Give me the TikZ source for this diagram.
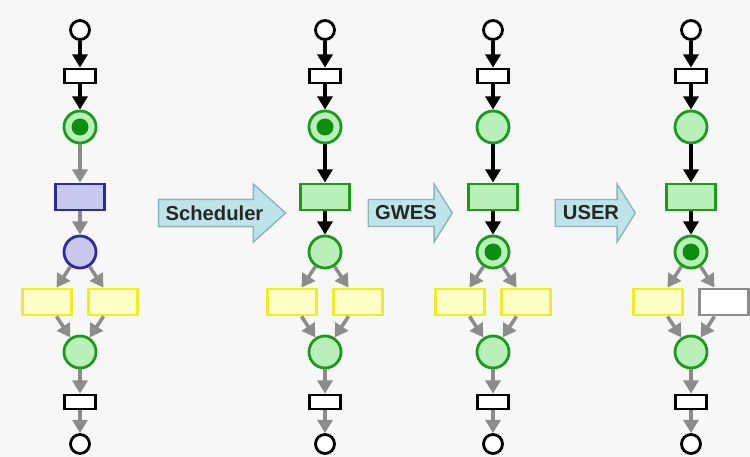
\documentclass[tikz,border=0pt]{standalone}
\usepackage{fontspec}
\setsansfont{Liberation Sans}
\usepackage{tikz}
\usetikzlibrary{arrows.meta,shapes.arrows}
\definecolor{pGreen}{HTML}{1C9A1C}
\definecolor{pGreenL}{HTML}{B9F0B9}
\definecolor{pGreenD}{HTML}{0E8E0E}
\definecolor{pBlue}{HTML}{2D2D9A}
\definecolor{pBlueL}{HTML}{C9C9EF}
\definecolor{pYellow}{HTML}{EEEE22}
\definecolor{pYellowL}{HTML}{FFFFC6}
\definecolor{mGrey}{HTML}{8C8C8C}
\definecolor{fFill}{HTML}{BDE5E9}
\definecolor{fLine}{HTML}{8DB4B8}
\definecolor{bgGrey}{HTML}{F7F7F7}
\tikzset{
  pl/.style   = {circle, draw=pGreen, fill=pGreenL, line width=1.6pt,
                 minimum size=6.4mm, inner sep=0pt},
  tok/.style  = {pl, path picture={\fill[pGreenD] (path picture bounding box.center) circle (1.7mm);}},
  plb/.style  = {pl, draw=pBlue, fill=pBlueL},
  ple/.style  = {circle, draw=black, fill=white, line width=1.6pt,
                 minimum size=3.8mm, inner sep=0pt},
  tr/.style   = {rectangle, draw=pGreen, fill=pGreenL, line width=1.6pt,
                 minimum width=9.8mm, minimum height=5.2mm, inner sep=0pt},
  trb/.style  = {tr, draw=pBlue, fill=pBlueL},
  try/.style  = {tr, draw=pYellow, fill=pYellowL},
  tro/.style  = {tr, draw=mGrey, fill=white},
  trs/.style  = {rectangle, draw=black, fill=white, line width=1.6pt,
                 minimum width=6.2mm, minimum height=2.8mm, inner sep=0pt},
  ar/.style   = {-{Triangle[length=7.5pt,width=8.5pt]}, line width=2pt, draw=black},
  arg/.style  = {ar, draw=mGrey},
  flow/.style = {single arrow, draw=fLine, fill=fFill, line width=0.8pt,
                 minimum width=11.6mm, single arrow head extend=2.6mm, inner sep=2pt,
                 font=\sffamily\bfseries\fontsize{11.5}{13}\selectfont, text=black!85},
}
\begin{document}
\begin{tikzpicture}[x=0.2mm, y=-0.2mm]
  \fill[bgGrey] (0,0) rectangle (750,457);
  \useasboundingbox (0,0) rectangle (750,457);
  % one net per column: place, middle transition, place below, right branch, arrow style
  \foreach \k/\x/\pa/\tb/\pb/\tr/\arr in {1/80/tok/trb/plb/try/arg,
                                          2/325/tok/tr/pl/try/ar,
                                          3/493/pl/tr/tok/try/ar,
                                          4/691/pl/tr/tok/tro/ar}{
    \node[ple]  (s\k) at (\x,30)     {};
    \node[trs]  (u\k) at (\x,76)     {};
    \node[\pa]  (p\k) at (\x,127)    {};
    \node[\tb]  (t\k) at (\x,197)    {};
    \node[\pb]  (q\k) at (\x,252)    {};
    \node[try]  (l\k) at (\x-33,302) {};
    \node[\tr]  (r\k) at (\x+33,302) {};
    \node[pl]   (m\k) at (\x,352)    {};
    \node[trs]  (v\k) at (\x,402)    {};
    \node[ple]  (e\k) at (\x,444)    {};
    \draw[ar]   (s\k) -- (u\k);
    \draw[ar]   (u\k) -- (p\k);
    \draw[\arr] (p\k) -- (t\k);
    \draw[\arr] (t\k) -- (q\k);
    \draw[arg]  (q\k) -- (l\k);
    \draw[arg]  (q\k) -- (r\k);
    \draw[arg]  (l\k) -- (m\k);
    \draw[arg]  (r\k) -- (m\k);
    \draw[arg]  (m\k) -- (v\k);
    \draw[arg]  (v\k) -- (e\k);
  }
  % steps between the columns
  \node[flow, minimum height=25.4mm, single arrow tip angle=84]  (sched) at (214.5,213) {Scheduler};
  \node[flow, minimum height=16.8mm, single arrow tip angle=116] (gwes)  at (406,213)   {GWES};
  \node[flow, minimum height=16mm,   single arrow tip angle=116] (user)  at (591,213)   {USER};
\end{tikzpicture}
\end{document}
